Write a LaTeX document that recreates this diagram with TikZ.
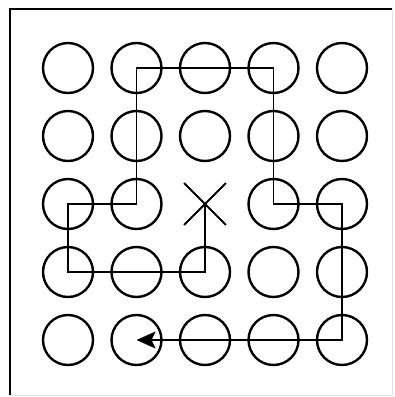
\documentclass[tikz,border=0pt]{standalone}
\usepackage{tikz}
\usetikzlibrary{arrows.meta,shapes.misc}
\begin{document}
\begin{tikzpicture}[x=1pt,y=-1pt,
    ring/.style={draw,circle,line width=2.4pt,minimum size=50pt,inner sep=0pt},
    ctr/.style={draw,cross out,line width=1.9pt,minimum size=40pt,inner sep=0pt},
    route/.style={line width=1.9pt,-{Stealth[length=19pt,width=17pt,inset=4pt]}}]
      \useasboundingbox (0,0) rectangle (395,397);
      \draw [line width=2.4pt] (10,395) -- (10,9) -- (392,9);
      \draw [gray!20, line width=0.8pt] (392,9) -- (392,395) -- (10,395);
      \foreach \i in {1,...,5} {
        \foreach \j in {1,...,5} {
          \ifnum\i\j=33 \else
            \node [ring] (c-\i-\j) at ({68+68.5*(\i-1)},{68+68*(\j-1)}) {};
          \fi
        }
      }
      \node [ctr] (x) at (205,204) {};
      \draw [route] (x.center) -- (c-3-4.center) -- (c-1-4.center) -- (c-1-3.center) -- (c-2-3.center) -- (c-2-1.center) -- (c-4-1.center) -- (c-4-3.center) -- (c-5-3.center) -- (c-5-5.center) -- (c-2-5.center);
    \end{tikzpicture}
\end{document}
